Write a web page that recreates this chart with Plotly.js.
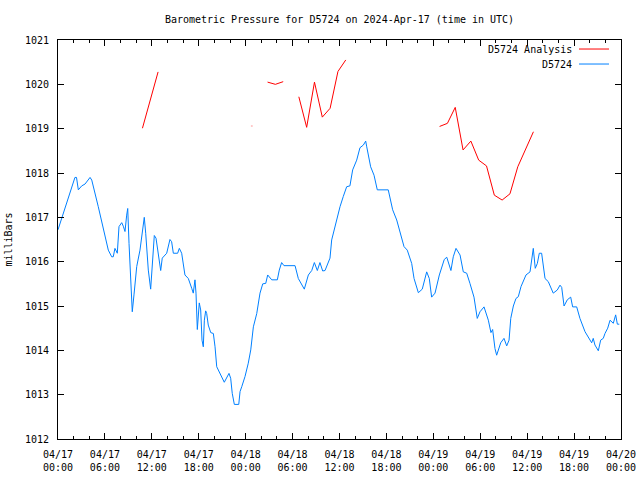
<!DOCTYPE html>
<html>
<head>
<meta charset="utf-8">
<script src="https://cdn.plot.ly/plotly-3.0.1.min.js"></script>
<style>html,body{margin:0;padding:0;background:#fff}#chart{width:640px;height:480px}</style>
</head>
<body>
<div id="chart"></div>
<script>
var obsTimes = [
"2024-04-17 00:00","2024-04-17 01:00","2024-04-17 02:10","2024-04-17 02:22","2024-04-17 02:36","2024-04-17 03:02","2024-04-17 03:27","2024-04-17 04:06","2024-04-17 04:19","2024-04-17 05:09","2024-04-17 06:01","2024-04-17 06:26","2024-04-17 06:52","2024-04-17 07:04","2024-04-17 07:17","2024-04-17 07:35","2024-04-17 07:48","2024-04-17 08:09","2024-04-17 08:21","2024-04-17 08:34","2024-04-17 08:47","2024-04-17 08:55","2024-04-17 09:05","2024-04-17 09:20","2024-04-17 09:30","2024-04-17 09:43","2024-04-17 10:04","2024-04-17 10:29","2024-04-17 10:55","2024-04-17 11:02","2024-04-17 11:13","2024-04-17 11:33","2024-04-17 11:51","2024-04-17 12:07","2024-04-17 12:19","2024-04-17 12:32","2024-04-17 12:50","2024-04-17 13:08","2024-04-17 13:20","2024-04-17 13:54","2024-04-17 14:19","2024-04-17 14:32","2024-04-17 14:45","2024-04-17 15:18","2024-04-17 15:31","2024-04-17 15:49","2024-04-17 16:14","2024-04-17 16:40","2024-04-17 17:06","2024-04-17 17:18","2024-04-17 17:31","2024-04-17 17:39","2024-04-17 17:49","2024-04-17 17:57","2024-04-17 18:04","2024-04-17 18:15","2024-04-17 18:25","2024-04-17 18:35","2024-04-17 18:43","2024-04-17 18:53","2024-04-17 19:01","2024-04-17 19:13","2024-04-17 19:32","2024-04-17 19:52","2024-04-17 20:05","2024-04-17 20:18","2024-04-17 20:43","2024-04-17 21:16","2024-04-17 21:52","2024-04-17 22:05","2024-04-17 22:17","2024-04-17 22:33","2024-04-17 23:07","2024-04-17 23:17","2024-04-17 23:30","2024-04-17 23:55",
"2024-04-18 00:20","2024-04-18 00:39","2024-04-18 00:59","2024-04-18 01:25","2024-04-18 01:50","2024-04-18 02:11","2024-04-18 02:34","2024-04-18 02:49","2024-04-18 03:20","2024-04-18 04:03","2024-04-18 04:18","2024-04-18 04:36","2024-04-18 04:54","2024-04-18 06:19","2024-04-18 06:44","2024-04-18 07:30","2024-04-18 08:01","2024-04-18 08:27","2024-04-18 08:47","2024-04-18 09:10","2024-04-18 09:30","2024-04-18 09:51","2024-04-18 10:09","2024-04-18 10:47","2024-04-18 11:00","2024-04-18 11:25","2024-04-18 11:43","2024-04-18 12:04","2024-04-18 12:29","2024-04-18 12:55","2024-04-18 13:20","2024-04-18 13:41","2024-04-18 14:12","2024-04-18 14:37","2024-04-18 15:03","2024-04-18 15:21","2024-04-18 15:29","2024-04-18 15:59","2024-04-18 16:25","2024-04-18 16:50","2024-04-18 18:14","2024-04-18 18:48","2024-04-18 19:19","2024-04-18 19:44","2024-04-18 20:15","2024-04-18 20:40","2024-04-18 21:14","2024-04-18 21:32","2024-04-18 22:05","2024-04-18 22:35","2024-04-18 23:09","2024-04-18 23:29","2024-04-18 23:47",
"2024-04-19 00:13","2024-04-19 00:46","2024-04-19 01:24","2024-04-19 01:43","2024-04-19 02:15","2024-04-19 02:33","2024-04-19 02:54","2024-04-19 03:25","2024-04-19 03:50","2024-04-19 04:16","2024-04-19 04:41","2024-04-19 05:12","2024-04-19 05:37","2024-04-19 05:58","2024-04-19 06:29","2024-04-19 07:02","2024-04-19 07:22","2024-04-19 07:35","2024-04-19 07:53","2024-04-19 08:06","2024-04-19 08:37","2024-04-19 09:02","2024-04-19 09:23","2024-04-19 09:41","2024-04-19 09:54","2024-04-19 10:14","2024-04-19 10:34","2024-04-19 10:52","2024-04-19 11:13","2024-04-19 11:38","2024-04-19 11:51","2024-04-19 12:22","2024-04-19 12:35","2024-04-19 12:47","2024-04-19 13:02","2024-04-19 13:18","2024-04-19 13:33","2024-04-19 13:51","2024-04-19 14:17","2024-04-19 14:42","2024-04-19 15:20","2024-04-19 15:51","2024-04-19 16:12","2024-04-19 16:25","2024-04-19 16:43","2024-04-19 17:08","2024-04-19 17:34","2024-04-19 17:49","2024-04-19 18:20","2024-04-19 18:45","2024-04-19 19:24","2024-04-19 19:49","2024-04-19 20:15","2024-04-19 20:27","2024-04-19 20:40","2024-04-19 21:06","2024-04-19 21:24","2024-04-19 21:44","2024-04-19 21:57","2024-04-19 22:18","2024-04-19 22:36","2024-04-19 23:01","2024-04-19 23:19","2024-04-19 23:32","2024-04-19 23:47"
];
var obsPressure = [
1016.72,1017.28,1017.90,1017.90,1017.62,1017.71,1017.75,1017.90,1017.84,1017.24,1016.56,1016.26,1016.11,1016.11,1016.30,1016.19,1016.79,1016.88,1016.80,1016.68,1017.05,1017.20,1016.41,1015.25,1014.87,1015.25,1015.89,1016.26,1016.90,1017.00,1016.64,1015.81,1015.38,1016.11,1016.59,1016.53,1016.19,1015.80,1016.08,1016.19,1016.50,1016.45,1016.19,1016.19,1016.30,1016.19,1015.70,1015.62,1015.40,1015.29,1015.59,1015.29,1014.47,1014.76,1015.07,1014.91,1014.23,1014.08,1014.68,1014.89,1014.83,1014.57,1014.40,1014.38,1014.08,1013.63,1013.48,1013.28,1013.48,1013.37,1013.03,1012.78,1012.78,1013.07,1013.18,1013.41,
1013.71,1014.01,1014.53,1014.83,1015.29,1015.50,1015.51,1015.70,1015.59,1015.59,1015.81,1015.98,1015.91,1015.91,1015.62,1015.38,1015.70,1015.80,1015.98,1015.80,1015.98,1015.79,1015.80,1016.08,1016.49,1016.79,1016.94,1017.24,1017.47,1017.69,1017.71,1018.07,1018.29,1018.57,1018.63,1018.72,1018.59,1018.14,1017.95,1017.62,1017.62,1017.17,1016.94,1016.68,1016.34,1016.26,1015.96,1015.62,1015.30,1015.38,1015.77,1015.62,1015.20,
1015.29,1015.70,1016.05,1016.10,1015.80,1016.11,1016.30,1016.15,1015.77,1015.74,1015.51,1015.20,1014.72,1014.87,1014.98,1014.68,1014.40,1014.47,1014.04,1013.89,1014.17,1014.27,1014.10,1014.23,1014.72,1015.00,1015.17,1015.21,1015.44,1015.62,1015.70,1015.77,1016.04,1016.30,1015.85,1015.96,1016.19,1016.19,1015.62,1015.55,1015.29,1015.36,1015.47,1015.42,1015.00,1015.14,1015.20,1014.98,1014.98,1014.72,1014.42,1014.31,1014.17,1014.27,1014.12,1013.99,1014.23,1014.27,1014.38,1014.50,1014.68,1014.61,1014.80,1014.59,1014.59
];
var anaTimes = [
"2024-04-17 10:48","2024-04-17 11:48","2024-04-17 12:48","2024-04-17 13:48",
"2024-04-18 00:48","2024-04-18 01:48",
"2024-04-18 02:48","2024-04-18 03:48","2024-04-18 04:48","2024-04-18 05:48",
"2024-04-18 06:48","2024-04-18 07:48","2024-04-18 08:48","2024-04-18 09:48","2024-04-18 10:48","2024-04-18 11:48","2024-04-18 12:48","2024-04-18 13:48",
"2024-04-19 00:48","2024-04-19 01:48","2024-04-19 02:48","2024-04-19 03:48","2024-04-19 04:48","2024-04-19 05:48","2024-04-19 06:48","2024-04-19 07:48","2024-04-19 08:48","2024-04-19 09:48","2024-04-19 10:48","2024-04-19 11:48","2024-04-19 12:48"
];
var anaPressure = [
1019.01,1019.62,1020.28,null,
1019.06,null,
1020.05,1020.00,1020.06,null,
1019.72,1019.03,1020.05,1019.26,1019.46,1020.29,1020.55,null,
1019.05,1019.12,1019.48,1018.52,1018.72,1018.29,1018.16,1017.50,1017.39,1017.53,1018.14,1018.55,1018.93
];
var xTickFormat = "%m/%d<br>%H:%M";
var titleText = "Barometric Pressure for D5724 on 2024-Apr-17 (time in UTC)";
var yTitle = "milliBars";
var legendNames = ["D5724 Analysis", "D5724"];

var redColor = "rgb(255,0,0)", blueColor = "rgb(0,128,255)";

// isolated analysis points get a small marker so they are visible
var anaMarkerSize = anaPressure.map(function(v, i){
  if (v === null) return 0;
  var prev = i > 0 ? anaPressure[i-1] : null;
  var next = i < anaPressure.length-1 ? anaPressure[i+1] : null;
  return (prev === null && next === null) ? 2 : 0;
});

var font = {family: "DejaVu Sans Mono, monospace", size: 10, color: "#000"};

var traces = [
  {x: anaTimes, y: anaPressure, type: "scatter", mode: "lines+markers", name: legendNames[0],
   line: {color: redColor, width: 1}, marker: {color: redColor, size: anaMarkerSize, symbol: "square"},
   connectgaps: false, showlegend: false, hoverinfo: "skip"},
  {x: obsTimes, y: obsPressure, type: "scatter", mode: "lines", name: legendNames[1],
   line: {color: blueColor, width: 1}, showlegend: false, hoverinfo: "skip"}
];

var layout = {
  width: 640, height: 480,
  margin: {l: 58, r: 19, t: 40, b: 41, pad: 0},
  paper_bgcolor: "#fff", plot_bgcolor: "#fff",
  font: font,
  title: {text: titleText, font: font, x: 0.5, xref: "paper", y: 1 - 19/480, yanchor: "middle"},
  xaxis: {
    type: "date", range: ["2024-04-17 00:00", "2024-04-20 00:00"],
    dtick: 6*3600*1000, tick0: "2024-04-17 00:00", tickformat: xTickFormat,
    ticks: "inside", ticklen: 6, tickcolor: "#000", tickwidth: 1,
    minor: {dtick: 2*3600*1000, ticks: "inside", ticklen: 3, tickcolor: "#000", showgrid: false},
    showline: true, linecolor: "#000", linewidth: 1, mirror: "allticks",
    showgrid: false, zeroline: false, tickfont: font, ticklabelstandoff: 6
  },
  yaxis: {
    range: [1012, 1021], dtick: 1, tick0: 1012, tickformat: "d",
    ticks: "inside", ticklen: 6, tickcolor: "#000", tickwidth: 1,
    showline: true, linecolor: "#000", linewidth: 1, mirror: "allticks",
    showgrid: false, zeroline: false, tickfont: font, ticklabelstandoff: 6,
    title: {text: yTitle, font: font, standoff: 10}
  },
  annotations: [
    {xref: "paper", yref: "paper", x: 0.9165, y: 0.9774, xanchor: "right", yanchor: "middle",
     text: legendNames[0], showarrow: false, font: font},
    {xref: "paper", yref: "paper", x: 0.9165, y: 0.9398, xanchor: "right", yanchor: "middle",
     text: legendNames[1], showarrow: false, font: font}
  ],
  shapes: [
    {type: "line", xref: "paper", yref: "paper", x0: 0.9254, x1: 0.9787, y0: 0.9774, y1: 0.9774,
     line: {color: redColor, width: 1}},
    {type: "line", xref: "paper", yref: "paper", x0: 0.9254, x1: 0.9787, y0: 0.9398, y1: 0.9398,
     line: {color: blueColor, width: 1}}
  ]
};

Plotly.newPlot("chart", traces, layout, {staticPlot: true, displayModeBar: false});
</script>
</body>
</html>
